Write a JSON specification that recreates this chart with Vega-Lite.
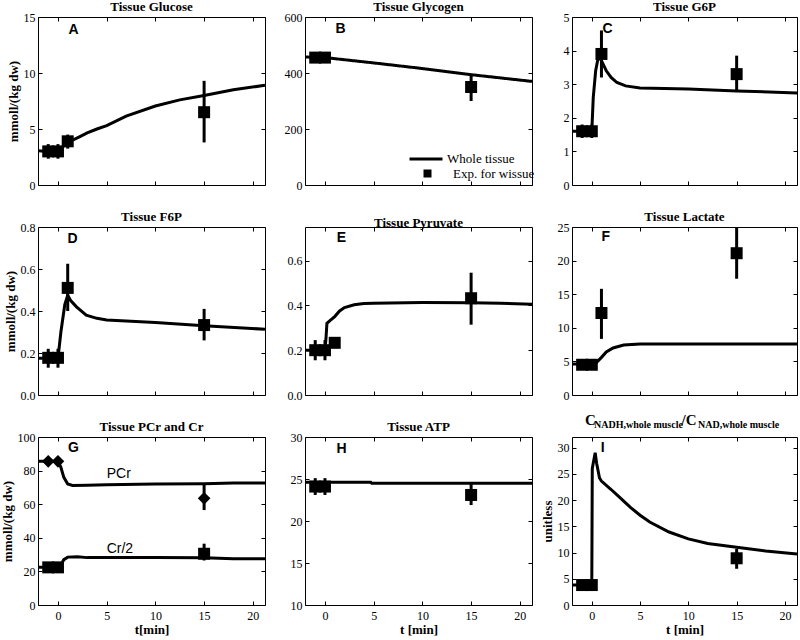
{
  "$schema": "https://vega.github.io/schema/vega-lite/v6.json",
  "background": "white",
  "padding": {"left": 0, "top": 0, "right": 0, "bottom": 0},
  "config": {
    "view": {"stroke": "black", "strokeWidth": 1},
    "axis": {"domain": false, "grid": false, "tickColor": "black", "tickSize": -4, "tickWidth": 1, "labelFont": "Liberation Serif", "labelFontSize": 12, "labelColor": "black", "titleFont": "Liberation Serif", "titleFontSize": 13, "titleFontWeight": "bold", "titleColor": "black"},
    "axisY": {"titlePadding": 3, "labelPadding": 7},
    "axisX": {"titlePadding": 2, "labelPadding": 9},
    "title": {"font": "Liberation Serif", "fontSize": 13, "fontWeight": "bold", "color": "black", "offset": -3, "frame": "group"},
    "font": "Liberation Serif"
  },
  "datasets": {
    "L": [
      {"p":"A","t":-2.05,"v":3.05},{"p":"A","t":-1,"v":3.0},{"p":"A","t":0,"v":3.0},{"p":"A","t":0.5,"v":3.4},{"p":"A","t":1,"v":3.8},{"p":"A","t":2.2,"v":4.3},{"p":"A","t":3,"v":4.65},{"p":"A","t":4,"v":5.0},{"p":"A","t":5,"v":5.3},{"p":"A","t":7,"v":6.15},{"p":"A","t":10,"v":7.05},{"p":"A","t":12.5,"v":7.6},{"p":"A","t":15,"v":8.0},{"p":"A","t":18,"v":8.5},{"p":"A","t":21.25,"v":8.9},
      {"p":"B","t":-2.05,"v":457},{"p":"B","t":0,"v":455},{"p":"B","t":5,"v":436},{"p":"B","t":10,"v":416},{"p":"B","t":15,"v":394},{"p":"B","t":21.25,"v":370},
      {"p":"C","t":-2.05,"v":1.6},{"p":"C","t":0,"v":1.6},{"p":"C","t":0.15,"v":2.6},{"p":"C","t":0.4,"v":3.4},{"p":"C","t":0.7,"v":3.85},{"p":"C","t":1.0,"v":3.7},{"p":"C","t":1.5,"v":3.4},{"p":"C","t":2,"v":3.2},{"p":"C","t":2.6,"v":3.05},{"p":"C","t":3.5,"v":2.95},{"p":"C","t":5,"v":2.89},{"p":"C","t":10,"v":2.86},{"p":"C","t":15,"v":2.8},{"p":"C","t":21.25,"v":2.74},
      {"p":"D","t":-2.05,"v":0.175},{"p":"D","t":0,"v":0.175},{"p":"D","t":0.3,"v":0.3},{"p":"D","t":0.7,"v":0.43},{"p":"D","t":1,"v":0.475},{"p":"D","t":1.3,"v":0.45},{"p":"D","t":1.9,"v":0.42},{"p":"D","t":2.9,"v":0.38},{"p":"D","t":4,"v":0.365},{"p":"D","t":5,"v":0.357},{"p":"D","t":10,"v":0.345},{"p":"D","t":15,"v":0.33},{"p":"D","t":21.25,"v":0.313},
      {"p":"E","t":-2.05,"v":0.2},{"p":"E","t":0,"v":0.2},{"p":"E","t":0.1,"v":0.25},{"p":"E","t":0.2,"v":0.32},{"p":"E","t":0.6,"v":0.335},{"p":"E","t":1,"v":0.35},{"p":"E","t":1.5,"v":0.375},{"p":"E","t":2,"v":0.39},{"p":"E","t":3,"v":0.403},{"p":"E","t":4,"v":0.408},{"p":"E","t":5,"v":0.41},{"p":"E","t":10,"v":0.413},{"p":"E","t":15,"v":0.412},{"p":"E","t":18,"v":0.41},{"p":"E","t":21.25,"v":0.405},
      {"p":"F","t":-2.05,"v":4.6},{"p":"F","t":0,"v":4.6},{"p":"F","t":0.4,"v":4.7},{"p":"F","t":1,"v":5.6},{"p":"F","t":1.5,"v":6.4},{"p":"F","t":2.2,"v":7.0},{"p":"F","t":3.3,"v":7.45},{"p":"F","t":5,"v":7.6},{"p":"F","t":10,"v":7.6},{"p":"F","t":21.25,"v":7.6},
      {"p":"G","s":"PCr","t":-2.05,"v":85.5},{"p":"G","s":"PCr","t":0,"v":85.5},{"p":"G","s":"PCr","t":0.3,"v":82},{"p":"G","s":"PCr","t":0.6,"v":76},{"p":"G","s":"PCr","t":1,"v":72},{"p":"G","s":"PCr","t":1.5,"v":71.2},{"p":"G","s":"PCr","t":3,"v":71.3},{"p":"G","s":"PCr","t":5,"v":71.6},{"p":"G","s":"PCr","t":10,"v":72},{"p":"G","s":"PCr","t":15,"v":72.2},{"p":"G","s":"PCr","t":18,"v":72.6},{"p":"G","s":"PCr","t":21.25,"v":72.6},
      {"p":"G","s":"Cr","t":-2.05,"v":22.4},{"p":"G","s":"Cr","t":0,"v":22.4},{"p":"G","s":"Cr","t":0.3,"v":24},{"p":"G","s":"Cr","t":0.6,"v":27},{"p":"G","s":"Cr","t":1,"v":28.5},{"p":"G","s":"Cr","t":2,"v":28.7},{"p":"G","s":"Cr","t":3,"v":28.2},{"p":"G","s":"Cr","t":10,"v":28.2},{"p":"G","s":"Cr","t":15,"v":28.1},{"p":"G","s":"Cr","t":18,"v":27.6},{"p":"G","s":"Cr","t":21.25,"v":27.5},
      {"p":"H","t":-2.05,"v":24.6},{"p":"H","t":4.7,"v":24.6},{"p":"H","t":4.8,"v":24.5},{"p":"H","t":21.25,"v":24.5},
      {"p":"I","t":-2.05,"v":3.8},{"p":"I","t":0,"v":3.8},{"p":"I","t":0.05,"v":26},{"p":"I","t":0.35,"v":29},{"p":"I","t":0.5,"v":27},{"p":"I","t":0.8,"v":24.2},{"p":"I","t":1,"v":23.6},{"p":"I","t":2,"v":22},{"p":"I","t":3,"v":20.3},{"p":"I","t":4,"v":18.6},{"p":"I","t":5,"v":17.1},{"p":"I","t":6,"v":15.8},{"p":"I","t":8,"v":13.9},{"p":"I","t":10,"v":12.6},{"p":"I","t":12,"v":11.7},{"p":"I","t":15,"v":11.0},{"p":"I","t":18,"v":10.3},{"p":"I","t":21.25,"v":9.7}
    ],
    "E": [
      {"p":"A","t":-1,"v":2.35,"v2":3.65},{"p":"A","t":0,"v":2.35,"v2":3.65},{"p":"A","t":1,"v":3.25,"v2":4.5},{"p":"A","t":15,"v":3.8,"v2":9.3},
      {"p":"B","t":15,"v":300,"v2":395},
      {"p":"C","t":-1,"v":1.4,"v2":1.8},{"p":"C","t":0,"v":1.4,"v2":1.8},{"p":"C","t":1,"v":3.2,"v2":4.6},{"p":"C","t":15,"v":2.8,"v2":3.85},
      {"p":"D","t":-1,"v":0.13,"v2":0.22},{"p":"D","t":0,"v":0.13,"v2":0.22},{"p":"D","t":1,"v":0.4,"v2":0.625},{"p":"D","t":15,"v":0.26,"v2":0.41},
      {"p":"E","t":-1,"v":0.155,"v2":0.245},{"p":"E","t":0,"v":0.155,"v2":0.245},{"p":"E","t":15,"v":0.314,"v2":0.546},
      {"p":"F","t":1,"v":8.35,"v2":15.8},{"p":"F","t":15,"v":17.3,"v2":24.9},
      {"p":"G","t":15,"v":56.5,"v2":71.5},{"p":"G","t":15,"v":26.5,"v2":36.5},
      {"p":"H","t":-1,"v":23.1,"v2":25.1},{"p":"H","t":0,"v":23.1,"v2":25.1},{"p":"H","t":15,"v":21.9,"v2":24.4},
      {"p":"I","t":15,"v":6.9,"v2":10.7}
    ],
    "P": [
      {"p":"A","t":-1,"v":3},{"p":"A","t":0,"v":3},{"p":"A","t":1,"v":3.9},{"p":"A","t":15,"v":6.5},
      {"p":"B","t":-1,"v":455},{"p":"B","t":0,"v":455},{"p":"B","t":15,"v":350},
      {"p":"C","t":-1,"v":1.6},{"p":"C","t":0,"v":1.6},{"p":"C","t":1,"v":3.9},{"p":"C","t":15,"v":3.3},
      {"p":"D","t":-1,"v":0.177},{"p":"D","t":0,"v":0.177},{"p":"D","t":1,"v":0.51},{"p":"D","t":15,"v":0.333},
      {"p":"E","t":-1,"v":0.2},{"p":"E","t":0,"v":0.2},{"p":"E","t":1,"v":0.233},{"p":"E","t":15,"v":0.432},
      {"p":"F","t":-1,"v":4.5},{"p":"F","t":0,"v":4.5},{"p":"F","t":1,"v":12.2},{"p":"F","t":15,"v":21.1},
      {"p":"G","s":"PCr","t":-1,"v":85.5},{"p":"G","s":"PCr","t":0,"v":85.5},{"p":"G","s":"PCr","t":15,"v":63.5},
      {"p":"G","s":"Cr","t":-1,"v":22.4},{"p":"G","s":"Cr","t":0,"v":22.4},{"p":"G","s":"Cr","t":15,"v":30.5},
      {"p":"H","t":-1,"v":24.1},{"p":"H","t":0,"v":24.1},{"p":"H","t":15,"v":23.1},
      {"p":"I","t":-1,"v":3.8},{"p":"I","t":0,"v":3.8},{"p":"I","t":15,"v":8.9}
    ],
    "T": [
      {"p":"A","label":"A","t":1.6,"v":13.85},{"p":"B","label":"B","t":1.6,"v":557},{"p":"C","label":"C","t":1.62,"v":4.65},
      {"p":"D","label":"D","t":1.5,"v":0.745},{"p":"E","label":"E","t":1.7,"v":0.70},{"p":"F","label":"F","t":1.45,"v":23.5},
      {"p":"G","label":"G","t":1.6,"v":93.6},{"p":"H","label":"H","t":1.7,"v":28.6},{"p":"I","label":"I","t":1.13,"v":30}
    ],
    "N": [
      {"p":"G","label":"PCr","t":5.0,"v":77.8},{"p":"G","label":"Cr/2","t":5.0,"v":33.3}
    ]
  },
  "columns": 3,
  "spacing": {"row": 42, "column": 40},
  "bounds": "flush",
  "concat": [
    {
      "width": 227, "height": 168, "title": "Tissue Glucose",
      "encoding": {
        "x": {"field": "t", "type": "quantitative", "scale": {"domain": [-2.05, 21.25], "nice": false, "zero": false}, "axis": null},
        "y": {"field": "v", "type": "quantitative", "scale": {"domain": [0, 15], "nice": false, "zero": false}, "axis": null}
      },
      "layer": [
        {"data": {"name": "L"}, "transform": [{"filter": "datum.p=='A'"}], "mark": {"type": "line", "color": "black", "strokeWidth": 3, "clip": true},
          "encoding": {
            "x": {"field": "t", "type": "quantitative", "scale": {"domain": [-2.05, 21.25], "nice": false, "zero": false}, "axis": {"orient": "bottom", "values": [0,5,10,15,20], "labels": false, "title": null}},
            "y": {"field": "v", "type": "quantitative", "scale": {"domain": [0, 15], "nice": false, "zero": false}, "axis": {"orient": "left", "values": [0,5,10,15], "title": "mmoll/(kg dw)"}}}},
        {"data": {"name": "E"}, "transform": [{"filter": "datum.p=='A'"}], "mark": {"type": "rule", "color": "black", "strokeWidth": 3, "clip": true},
          "encoding": {
            "x": {"field": "t", "type": "quantitative", "scale": {"domain": [-2.05, 21.25], "nice": false, "zero": false}, "axis": {"orient": "top", "values": [0,5,10,15,20], "labels": false, "title": null}},
            "y": {"field": "v", "type": "quantitative", "scale": {"domain": [0, 15], "nice": false, "zero": false}, "axis": {"orient": "right", "values": [0,5,10,15], "labels": false, "title": null}},
            "y2": {"field": "v2"}}},
        {"data": {"name": "P"}, "transform": [{"filter": "datum.p=='A'"}], "mark": {"type": "point", "shape": "square", "filled": true, "color": "black", "opacity": 1, "size": 144, "clip": true}},
        {"data": {"name": "T"}, "transform": [{"filter": "datum.p=='A'"}], "mark": {"type": "text", "font": "Liberation Sans", "fontWeight": "bold", "fontSize": 14, "color": "black"}, "encoding": {"text": {"field": "label"}}}
      ]
    },
    {
      "width": 227, "height": 168, "title": "Tissue Glycogen",
      "encoding": {
        "x": {"field": "t", "type": "quantitative", "scale": {"domain": [-2.05, 21.25], "nice": false, "zero": false}, "axis": null},
        "y": {"field": "v", "type": "quantitative", "scale": {"domain": [0, 600], "nice": false, "zero": false}, "axis": null}
      },
      "layer": [
        {"data": {"name": "L"}, "transform": [{"filter": "datum.p=='B'"}], "mark": {"type": "line", "color": "black", "strokeWidth": 3, "clip": true},
          "encoding": {
            "x": {"field": "t", "type": "quantitative", "scale": {"domain": [-2.05, 21.25], "nice": false, "zero": false}, "axis": {"orient": "bottom", "values": [0,5,10,15,20], "labels": false, "title": null}},
            "y": {"field": "v", "type": "quantitative", "scale": {"domain": [0, 600], "nice": false, "zero": false}, "axis": {"orient": "left", "values": [0,200,400,600], "title": null}},
            "strokeDash": {"datum": "Whole tissue", "scale": {"domain": ["Whole tissue"], "range": [[1, 0]]},
              "legend": {"orient": "none", "legendX": 370, "legendY": 124, "padding": 0, "title": null, "labelFont": "Liberation Serif", "labelFontSize": 13, "labelColor": "black", "symbolType": "stroke", "symbolSize": 1089, "symbolStrokeColor": "black", "symbolStrokeWidth": 3, "labelOffset": 3}}}},
        {"data": {"name": "E"}, "transform": [{"filter": "datum.p=='B'"}], "mark": {"type": "rule", "color": "black", "strokeWidth": 3, "clip": true},
          "encoding": {
            "x": {"field": "t", "type": "quantitative", "scale": {"domain": [-2.05, 21.25], "nice": false, "zero": false}, "axis": {"orient": "top", "values": [0,5,10,15,20], "labels": false, "title": null}},
            "y": {"field": "v", "type": "quantitative", "scale": {"domain": [0, 600], "nice": false, "zero": false}, "axis": {"orient": "right", "values": [0,200,400,600], "labels": false, "title": null}},
            "y2": {"field": "v2"}}},
        {"data": {"name": "P"}, "transform": [{"filter": "datum.p=='B'"}], "mark": {"type": "point", "filled": true, "color": "black", "opacity": 1, "size": 144, "clip": true},
          "encoding": {"shape": {"datum": "Exp. for wissue", "scale": {"domain": ["Exp. for wissue"], "range": ["square"]},
            "legend": {"orient": "none", "legendX": 383, "legendY": 150, "padding": 0, "title": null, "labelFont": "Liberation Serif", "labelFontSize": 13, "labelColor": "black", "symbolSize": 64, "symbolFillColor": "black", "symbolStrokeWidth": 0, "labelOffset": 19}}}},
        {"data": {"name": "T"}, "transform": [{"filter": "datum.p=='B'"}], "mark": {"type": "text", "font": "Liberation Sans", "fontWeight": "bold", "fontSize": 14, "color": "black"}, "encoding": {"text": {"field": "label"}}}
      ]
    },
    {
      "width": 225, "height": 168, "title": "Tissue G6P",
      "encoding": {
        "x": {"field": "t", "type": "quantitative", "scale": {"domain": [-2.05, 21.25], "nice": false, "zero": false}, "axis": null},
        "y": {"field": "v", "type": "quantitative", "scale": {"domain": [0, 5], "nice": false, "zero": false}, "axis": null}
      },
      "layer": [
        {"data": {"name": "L"}, "transform": [{"filter": "datum.p=='C'"}], "mark": {"type": "line", "color": "black", "strokeWidth": 3, "clip": true},
          "encoding": {
            "x": {"field": "t", "type": "quantitative", "scale": {"domain": [-2.05, 21.25], "nice": false, "zero": false}, "axis": {"orient": "bottom", "values": [0,5,10,15,20], "labels": false, "title": null}},
            "y": {"field": "v", "type": "quantitative", "scale": {"domain": [0, 5], "nice": false, "zero": false}, "axis": {"orient": "left", "values": [0,1,2,3,4,5], "title": null}}}},
        {"data": {"name": "E"}, "transform": [{"filter": "datum.p=='C'"}], "mark": {"type": "rule", "color": "black", "strokeWidth": 3, "clip": true},
          "encoding": {
            "x": {"field": "t", "type": "quantitative", "scale": {"domain": [-2.05, 21.25], "nice": false, "zero": false}, "axis": {"orient": "top", "values": [0,5,10,15,20], "labels": false, "title": null}},
            "y": {"field": "v", "type": "quantitative", "scale": {"domain": [0, 5], "nice": false, "zero": false}, "axis": {"orient": "right", "values": [0,1,2,3,4,5], "labels": false, "title": null}},
            "y2": {"field": "v2"}}},
        {"data": {"name": "P"}, "transform": [{"filter": "datum.p=='C'"}], "mark": {"type": "point", "shape": "square", "filled": true, "color": "black", "opacity": 1, "size": 144, "clip": true}},
        {"data": {"name": "T"}, "transform": [{"filter": "datum.p=='C'"}], "mark": {"type": "text", "font": "Liberation Sans", "fontWeight": "bold", "fontSize": 14, "color": "black"}, "encoding": {"text": {"field": "label"}}}
      ]
    },
    {
      "width": 227, "height": 168, "title": "Tissue F6P",
      "encoding": {
        "x": {"field": "t", "type": "quantitative", "scale": {"domain": [-2.05, 21.25], "nice": false, "zero": false}, "axis": null},
        "y": {"field": "v", "type": "quantitative", "scale": {"domain": [0, 0.8], "nice": false, "zero": false}, "axis": null}
      },
      "layer": [
        {"data": {"name": "L"}, "transform": [{"filter": "datum.p=='D'"}], "mark": {"type": "line", "color": "black", "strokeWidth": 3, "clip": true},
          "encoding": {
            "x": {"field": "t", "type": "quantitative", "scale": {"domain": [-2.05, 21.25], "nice": false, "zero": false}, "axis": {"orient": "bottom", "values": [0,5,10,15,20], "labels": false, "title": null}},
            "y": {"field": "v", "type": "quantitative", "scale": {"domain": [0, 0.8], "nice": false, "zero": false}, "axis": {"orient": "left", "values": [0,0.2,0.4,0.6,0.8], "title": "mmoll/(kg dw)"}}}},
        {"data": {"name": "E"}, "transform": [{"filter": "datum.p=='D'"}], "mark": {"type": "rule", "color": "black", "strokeWidth": 3, "clip": true},
          "encoding": {
            "x": {"field": "t", "type": "quantitative", "scale": {"domain": [-2.05, 21.25], "nice": false, "zero": false}, "axis": {"orient": "top", "values": [0,5,10,15,20], "labels": false, "title": null}},
            "y": {"field": "v", "type": "quantitative", "scale": {"domain": [0, 0.8], "nice": false, "zero": false}, "axis": {"orient": "right", "values": [0,0.2,0.4,0.6,0.8], "labels": false, "title": null}},
            "y2": {"field": "v2"}}},
        {"data": {"name": "P"}, "transform": [{"filter": "datum.p=='D'"}], "mark": {"type": "point", "shape": "square", "filled": true, "color": "black", "opacity": 1, "size": 144, "clip": true}},
        {"data": {"name": "T"}, "transform": [{"filter": "datum.p=='D'"}], "mark": {"type": "text", "font": "Liberation Sans", "fontWeight": "bold", "fontSize": 14, "color": "black"}, "encoding": {"text": {"field": "label"}}}
      ]
    },
    {
      "width": 227, "height": 168, "title": "Tissue Pyruvate",
      "encoding": {
        "x": {"field": "t", "type": "quantitative", "scale": {"domain": [-2.05, 21.25], "nice": false, "zero": false}, "axis": null},
        "y": {"field": "v", "type": "quantitative", "scale": {"domain": [0, 0.75], "nice": false, "zero": false}, "axis": null}
      },
      "layer": [
        {"data": {"name": "L"}, "transform": [{"filter": "datum.p=='E'"}], "mark": {"type": "line", "color": "black", "strokeWidth": 3, "clip": true},
          "encoding": {
            "x": {"field": "t", "type": "quantitative", "scale": {"domain": [-2.05, 21.25], "nice": false, "zero": false}, "axis": {"orient": "bottom", "values": [0,5,10,15,20], "labels": false, "title": null}},
            "y": {"field": "v", "type": "quantitative", "scale": {"domain": [0, 0.75], "nice": false, "zero": false}, "axis": {"orient": "left", "values": [0,0.2,0.4,0.6], "title": null}}}},
        {"data": {"name": "E"}, "transform": [{"filter": "datum.p=='E'"}], "mark": {"type": "rule", "color": "black", "strokeWidth": 3, "clip": true},
          "encoding": {
            "x": {"field": "t", "type": "quantitative", "scale": {"domain": [-2.05, 21.25], "nice": false, "zero": false}, "axis": {"orient": "top", "values": [0,5,10,15,20], "labels": false, "title": null}},
            "y": {"field": "v", "type": "quantitative", "scale": {"domain": [0, 0.75], "nice": false, "zero": false}, "axis": {"orient": "right", "values": [0,0.2,0.4,0.6], "labels": false, "title": null}},
            "y2": {"field": "v2"}}},
        {"data": {"name": "P"}, "transform": [{"filter": "datum.p=='E'"}], "mark": {"type": "point", "shape": "square", "filled": true, "color": "black", "opacity": 1, "size": 144, "clip": true}},
        {"data": {"name": "T"}, "transform": [{"filter": "datum.p=='E'"}], "mark": {"type": "text", "font": "Liberation Sans", "fontWeight": "bold", "fontSize": 14, "color": "black"}, "encoding": {"text": {"field": "label"}}}
      ]
    },
    {
      "width": 225, "height": 168, "title": "Tissue Lactate",
      "encoding": {
        "x": {"field": "t", "type": "quantitative", "scale": {"domain": [-2.05, 21.25], "nice": false, "zero": false}, "axis": null},
        "y": {"field": "v", "type": "quantitative", "scale": {"domain": [0, 25], "nice": false, "zero": false}, "axis": null}
      },
      "layer": [
        {"data": {"name": "L"}, "transform": [{"filter": "datum.p=='F'"}], "mark": {"type": "line", "color": "black", "strokeWidth": 3, "clip": true},
          "encoding": {
            "x": {"field": "t", "type": "quantitative", "scale": {"domain": [-2.05, 21.25], "nice": false, "zero": false}, "axis": {"orient": "bottom", "values": [0,5,10,15,20], "labels": false, "title": null}},
            "y": {"field": "v", "type": "quantitative", "scale": {"domain": [0, 25], "nice": false, "zero": false}, "axis": {"orient": "left", "values": [0,5,10,15,20,25], "title": null}}}},
        {"data": {"name": "E"}, "transform": [{"filter": "datum.p=='F'"}], "mark": {"type": "rule", "color": "black", "strokeWidth": 3, "clip": true},
          "encoding": {
            "x": {"field": "t", "type": "quantitative", "scale": {"domain": [-2.05, 21.25], "nice": false, "zero": false}, "axis": {"orient": "top", "values": [0,5,10,15,20], "labels": false, "title": null}},
            "y": {"field": "v", "type": "quantitative", "scale": {"domain": [0, 25], "nice": false, "zero": false}, "axis": {"orient": "right", "values": [0,5,10,15,20,25], "labels": false, "title": null}},
            "y2": {"field": "v2"}}},
        {"data": {"name": "P"}, "transform": [{"filter": "datum.p=='F'"}], "mark": {"type": "point", "shape": "square", "filled": true, "color": "black", "opacity": 1, "size": 144, "clip": true}},
        {"data": {"name": "T"}, "transform": [{"filter": "datum.p=='F'"}], "mark": {"type": "text", "font": "Liberation Sans", "fontWeight": "bold", "fontSize": 14, "color": "black"}, "encoding": {"text": {"field": "label"}}}
      ]
    },
    {
      "width": 227, "height": 168, "title": "Tissue PCr and Cr",
      "encoding": {
        "x": {"field": "t", "type": "quantitative", "scale": {"domain": [-2.05, 21.25], "nice": false, "zero": false}, "axis": null},
        "y": {"field": "v", "type": "quantitative", "scale": {"domain": [0, 100], "nice": false, "zero": false}, "axis": null}
      },
      "layer": [
        {"data": {"name": "L"}, "transform": [{"filter": "datum.p=='G'"}], "mark": {"type": "line", "color": "black", "strokeWidth": 3, "clip": true},
          "encoding": {
            "x": {"field": "t", "type": "quantitative", "scale": {"domain": [-2.05, 21.25], "nice": false, "zero": false}, "axis": {"orient": "bottom", "values": [0,5,10,15,20], "title": "t[min]"}},
            "y": {"field": "v", "type": "quantitative", "scale": {"domain": [0, 100], "nice": false, "zero": false}, "axis": {"orient": "left", "values": [0,20,40,60,80,100], "title": "mmoll/(kg dw)"}},
            "detail": {"field": "s"}}},
        {"data": {"name": "E"}, "transform": [{"filter": "datum.p=='G'"}], "mark": {"type": "rule", "color": "black", "strokeWidth": 3, "clip": true},
          "encoding": {
            "x": {"field": "t", "type": "quantitative", "scale": {"domain": [-2.05, 21.25], "nice": false, "zero": false}, "axis": {"orient": "top", "values": [0,5,10,15,20], "labels": false, "title": null}},
            "y": {"field": "v", "type": "quantitative", "scale": {"domain": [0, 100], "nice": false, "zero": false}, "axis": {"orient": "right", "values": [0,20,40,60,80,100], "labels": false, "title": null}},
            "y2": {"field": "v2"}}},
        {"data": {"name": "P"}, "transform": [{"filter": "datum.p=='G' && datum.s=='Cr'"}], "mark": {"type": "point", "shape": "square", "filled": true, "color": "black", "opacity": 1, "size": 144, "clip": true}},
        {"data": {"name": "P"}, "transform": [{"filter": "datum.p=='G' && datum.s=='PCr'"}], "mark": {"type": "point", "shape": "diamond", "filled": true, "color": "black", "opacity": 1, "size": 160, "clip": true}},
        {"data": {"name": "T"}, "transform": [{"filter": "datum.p=='G'"}], "mark": {"type": "text", "font": "Liberation Sans", "fontWeight": "bold", "fontSize": 14, "color": "black"}, "encoding": {"text": {"field": "label"}}},
        {"data": {"name": "N"}, "transform": [{"filter": "datum.p=='G'"}], "mark": {"type": "text", "font": "Liberation Sans", "fontSize": 14, "align": "left", "color": "black"}, "encoding": {"text": {"field": "label"}}}
      ]
    },
    {
      "width": 227, "height": 168, "title": "Tissue ATP",
      "encoding": {
        "x": {"field": "t", "type": "quantitative", "scale": {"domain": [-2.05, 21.25], "nice": false, "zero": false}, "axis": null},
        "y": {"field": "v", "type": "quantitative", "scale": {"domain": [10, 30], "nice": false, "zero": false}, "axis": null}
      },
      "layer": [
        {"data": {"name": "L"}, "transform": [{"filter": "datum.p=='H'"}], "mark": {"type": "line", "color": "black", "strokeWidth": 3, "clip": true},
          "encoding": {
            "x": {"field": "t", "type": "quantitative", "scale": {"domain": [-2.05, 21.25], "nice": false, "zero": false}, "axis": {"orient": "bottom", "values": [0,5,10,15,20], "title": "t [min]"}},
            "y": {"field": "v", "type": "quantitative", "scale": {"domain": [10, 30], "nice": false, "zero": false}, "axis": {"orient": "left", "values": [10,15,20,25,30], "title": null}}}},
        {"data": {"name": "E"}, "transform": [{"filter": "datum.p=='H'"}], "mark": {"type": "rule", "color": "black", "strokeWidth": 3, "clip": true},
          "encoding": {
            "x": {"field": "t", "type": "quantitative", "scale": {"domain": [-2.05, 21.25], "nice": false, "zero": false}, "axis": {"orient": "top", "values": [0,5,10,15,20], "labels": false, "title": null}},
            "y": {"field": "v", "type": "quantitative", "scale": {"domain": [10, 30], "nice": false, "zero": false}, "axis": {"orient": "right", "values": [10,15,20,25,30], "labels": false, "title": null}},
            "y2": {"field": "v2"}}},
        {"data": {"name": "P"}, "transform": [{"filter": "datum.p=='H'"}], "mark": {"type": "point", "shape": "square", "filled": true, "color": "black", "opacity": 1, "size": 144, "clip": true}},
        {"data": {"name": "T"}, "transform": [{"filter": "datum.p=='H'"}], "mark": {"type": "text", "font": "Liberation Sans", "fontWeight": "bold", "fontSize": 14, "color": "black"}, "encoding": {"text": {"field": "label"}}}
      ]
    },
    {
      "width": 225, "height": 168,
      "encoding": {
        "x": {"field": "t", "type": "quantitative", "scale": {"domain": [-2.05, 21.25], "nice": false, "zero": false}, "axis": null},
        "y": {"field": "v", "type": "quantitative", "scale": {"domain": [0, 32], "nice": false, "zero": false}, "axis": null}
      },
      "layer": [
        {"data": {"name": "L"}, "transform": [{"filter": "datum.p=='I'"}], "mark": {"type": "line", "color": "black", "strokeWidth": 3, "clip": true},
          "encoding": {
            "x": {"field": "t", "type": "quantitative", "scale": {"domain": [-2.05, 21.25], "nice": false, "zero": false}, "axis": {"orient": "bottom", "values": [0,5,10,15,20], "title": "t [min]"}},
            "y": {"field": "v", "type": "quantitative", "scale": {"domain": [0, 32], "nice": false, "zero": false}, "axis": {"orient": "left", "values": [0,5,10,15,20,25,30], "title": "unitless"}}}},
        {"data": {"name": "E"}, "transform": [{"filter": "datum.p=='I'"}], "mark": {"type": "rule", "color": "black", "strokeWidth": 3, "clip": true},
          "encoding": {
            "x": {"field": "t", "type": "quantitative", "scale": {"domain": [-2.05, 21.25], "nice": false, "zero": false}, "axis": {"orient": "top", "values": [0,5,10,15,20], "labels": false, "title": null}},
            "y": {"field": "v", "type": "quantitative", "scale": {"domain": [0, 32], "nice": false, "zero": false}, "axis": {"orient": "right", "values": [0,5,10,15,20,25,30], "labels": false, "title": null}},
            "y2": {"field": "v2"}}},
        {"data": {"name": "P"}, "transform": [{"filter": "datum.p=='I'"}], "mark": {"type": "point", "shape": "square", "filled": true, "color": "black", "opacity": 1, "size": 144, "clip": true}},
        {"data": {"name": "T"}, "transform": [{"filter": "datum.p=='I'"}], "mark": {"type": "text", "font": "Liberation Sans", "fontWeight": "bold", "fontSize": 14, "color": "black"}, "encoding": {"text": {"field": "label"}}},
        {"data": {"values": [{"label": "C", "t": -0.7, "v": 34.34}, {"label": "/C", "t": 9.3, "v": 34.34}]}, "mark": {"type": "text", "font": "Liberation Serif", "fontWeight": "bold", "fontSize": 15, "align": "left", "baseline": "alphabetic", "color": "black"}, "encoding": {"text": {"field": "label"}}},
        {"data": {"values": [{"label": "NADH,whole muscle", "t": 0.23, "v": 33.7}, {"label": "NAD,whole muscle", "t": 11.0, "v": 33.7}]}, "mark": {"type": "text", "font": "Liberation Serif", "fontWeight": "bold", "fontSize": 10, "align": "left", "baseline": "alphabetic", "color": "black"}, "encoding": {"text": {"field": "label"}}}
      ]
    }
  ]
}
